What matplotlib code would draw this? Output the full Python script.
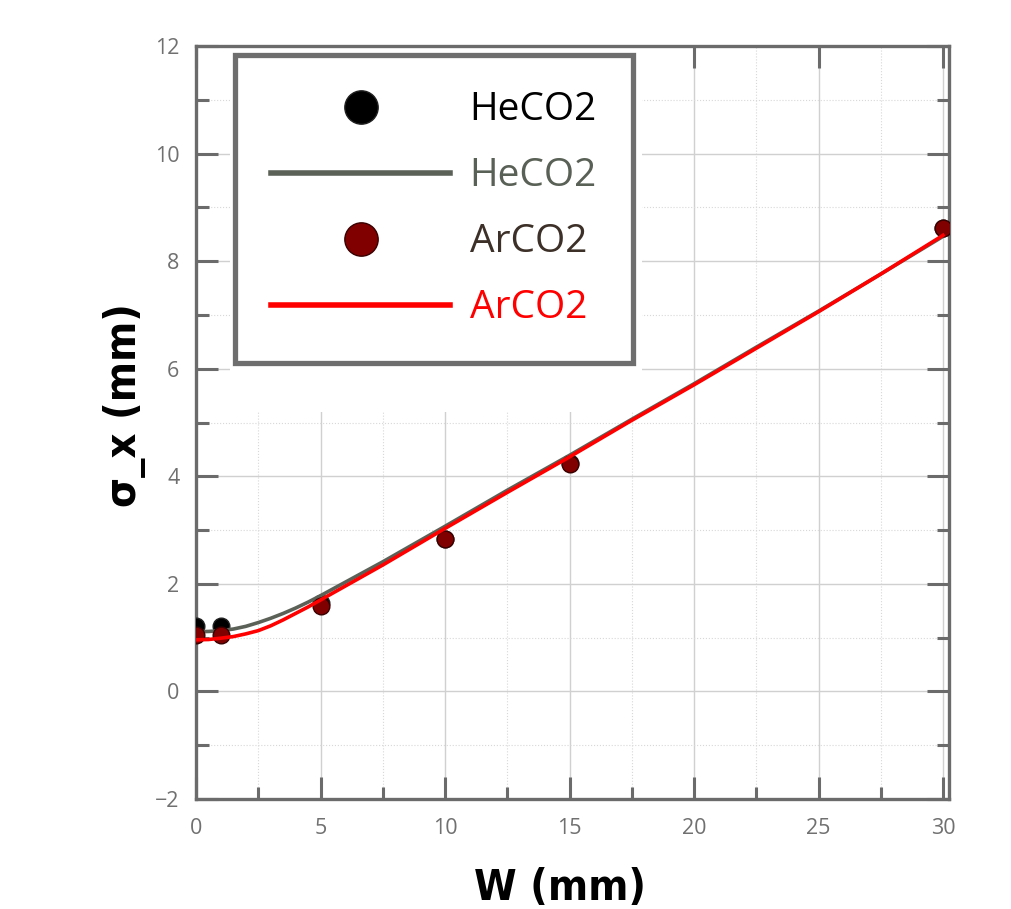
import matplotlib.pyplot as plt
from matplotlib.patches import Rectangle
from matplotlib.ticker import MultipleLocator

plt.rcParams['font.family'] = ['Open Sans', 'DejaVu Sans']

# measured points
w_pts = [0, 1, 5, 10, 15, 30]
he_pts = [1.22, 1.22, 1.65, 2.84, 4.24, 8.62]
ar_pts = [1.04, 1.04, 1.58, 2.83, 4.23, 8.62]

# fitted curves
w_fit = [0, 0.5, 1, 1.5, 2, 2.5, 3, 3.5, 4, 4.5, 5, 7.5, 10, 12.5, 15, 17.5, 20, 22.5, 25, 27.5, 30]
he_fit = [1.11, 1.115, 1.13, 1.16, 1.21, 1.28, 1.36, 1.45, 1.55, 1.66, 1.78, 2.41, 3.07, 3.74, 4.39, 5.06, 5.72, 6.40, 7.07, 7.76, 8.46]
ar_fit = [0.96, 0.965, 0.99, 1.02, 1.07, 1.13, 1.22, 1.33, 1.45, 1.57, 1.70, 2.35, 3.03, 3.70, 4.36, 5.04, 5.70, 6.38, 7.06, 7.76, 8.48]

labels = ["HeCO2", "HeCO2", "ArCO2", "ArCO2"]
label_colors = ["#000000", "#596055", "#3c3028", "#ff0000"]

spine_col = "#6b6b6b"

fig = plt.figure(figsize=(10.12, 9.09), dpi=100)
ax = fig.add_axes([196/1012, 1-799/909, 753/1012, 753/909])

ax.set_xlim(0, 30.24)
ax.set_ylim(-2, 12)
ax.xaxis.set_major_locator(MultipleLocator(5))
ax.xaxis.set_minor_locator(MultipleLocator(2.5))
ax.yaxis.set_major_locator(MultipleLocator(2))
ax.yaxis.set_minor_locator(MultipleLocator(1))

ax.set_axisbelow(True)
ax.grid(which='major', color='#d0d0d0', lw=1.0)
ax.grid(which='minor', color='#d8d8d8', lw=0.8, ls=':')

# white patch behind the legend
ax.add_patch(Rectangle((0.045, 0.514), 0.547, 0.483, transform=ax.transAxes,
                       facecolor='white', edgecolor='none', zorder=1))

for s in ax.spines.values():
    s.set_color(spine_col)
    s.set_linewidth(2.4)

ax.tick_params(which='both', direction='in', top=True, right=True,
               color=spine_col, width=2.2, labelsize=15.5, labelcolor='#707070')
ax.tick_params(which='major', length=16)
ax.tick_params(which='minor', length=9, top=False)
ax.tick_params(axis='x', pad=14)
ax.tick_params(axis='y', pad=12)

h1, = ax.plot(w_pts, he_pts, 'o', color='black', ms=12, mec='#202020', zorder=3)
h2, = ax.plot(w_fit, he_fit, '-', color='#5b6157', lw=2.6, zorder=4)
h3, = ax.plot(w_pts, ar_pts, 'o', color='#800000', ms=12, mec='#3a0000', zorder=5)
h4, = ax.plot(w_fit, ar_fit, '-', color='#ff0000', lw=2.6, zorder=6)

leg = ax.legend([h1, h2, h3, h4], labels, loc='upper left',
                bbox_to_anchor=(0.052, 0.988), borderaxespad=0,
                prop={'family': 'Open Sans', 'size': 28},
                handlelength=4.6, handletextpad=0.5, markerscale=2.0,
                labelspacing=0.72, borderpad=0.93, fancybox=False, framealpha=1)
leg.get_frame().set_edgecolor('#6e6e6e')
leg.get_frame().set_linewidth(3.8)
for t, c in zip(leg.get_texts(), label_colors):
    t.set_color(c)
for lh in leg.get_lines():
    lh.set_linewidth(4)
leg.set_zorder(10)

fig.text(560/1012, 1-888/909, "W (mm)", ha='center', va='center',
         family='DejaVu Sans', stretch='condensed', weight='bold', size=31)
fig.text(125/1012, 1-405/909, "σ_x (mm)", ha='center', va='center', rotation=90,
         family='DejaVu Sans', stretch='condensed', weight='bold', size=31)

fig.savefig('out.png', dpi=100)
